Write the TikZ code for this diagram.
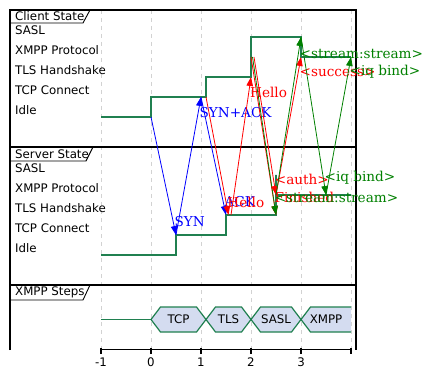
\documentclass[tikz,border=0pt]{standalone}
\usepackage{fontspec}
\setsansfont{DejaVu Sans}
\newfontfamily\msgfont{DejaVu Serif}
\usepackage{tikz}
\usetikzlibrary{arrows.meta,positioning,calc}

\definecolor{sigcol}{RGB}{32,128,80}
\definecolor{stepfill}{RGB}{212,220,240}
\definecolor{msggreen}{RGB}{0,128,0}

\tikzset{
  frame/.style={line width=1.3pt},
  tabline/.style={line width=0.9pt},
  gridline/.style={gray!35, line width=0.7pt, dash pattern=on 4pt off 4pt},
  signal/.style={sigcol, line width=1.2pt},
  msg/.style={-{Triangle[length=9pt,width=6.5pt]}, line width=0.8pt},
  msglab/.style={anchor=west, inner sep=1pt, font=\msgfont\fontsize{13.6}{15}\selectfont},
  rowlab/.style={anchor=west, inner sep=0pt, font=\sffamily\fontsize{11.8}{13}\selectfont},
  stepbox/.style={draw=sigcol, fill=stepfill, line width=1.2pt},
  steplab/.style={inner sep=0pt, font=\sffamily\fontsize{11.8}{13}\selectfont}
}

\begin{document}
\begin{tikzpicture}[x=50pt, y=-1pt]
    \useasboundingbox (-3.02,0) rectangle (5.58,379);

    % Time grid
    \foreach \t in {-1,...,4}
        \draw[gridline] (\t,10) -- (\t,349);

    % Frame and panels
    \draw[frame] (-2.82,350) -- (-2.82,10) -- (4.1,10) -- (4.1,350);
    \draw[frame] (-2.82,147) -- (4.1,147);
    \draw[frame] (-2.82,285) -- (4.1,285);

    % Panel tabs
    \node[rowlab] (clienttab) at (-2.72,16.5) {Client State};
    \draw[tabline] (-2.82,23) -- (-1.36,23) -- (-1.22,10);
    \node[rowlab] (servertab) at (-2.72,154.5) {Server State};
    \draw[tabline] (-2.82,161) -- (-1.30,161) -- (-1.16,147);
    \node[rowlab] (stepstab) at (-2.72,292.5) {XMPP Steps};
    \draw[tabline] (-2.82,300) -- (-1.36,300) -- (-1.22,285);

    % State rows
    \foreach \y/\lab [count=\i] in {30/SASL, 50/XMPP Protocol, 70/TLS Handshake, 90/TCP Connect, 110/Idle} {
        \node[rowlab] (crow\i) at (-2.72,\y) {\lab};
        \node[rowlab] (srow\i) at (-2.72,\y+138) {\lab};
    }

    % Client state
    \draw[signal] (-1,117) -- (0,117) -- (0,97) -- (1.1,97) -- (1.1,77) -- (2,77)
        -- (2,37) -- (3,37) -- (3,57) -- (4,57);

    % Server state
    \draw[signal] (-1,255) -- (0.5,255) -- (0.5,235) -- (1.5,235) -- (1.5,215)
        -- (2.5,215) -- (2.5,175) -- (2.5,195) -- (4,195);

    % XMPP steps
    \draw[signal] (-1,319.5) -- (0,319.5);
    \foreach \a/\b/\lab in {0/1.1/TCP, 1.1/2/TLS, 2/3/SASL} {
        \draw[stepbox] (\a,319.5) -- (\a+0.19,307) -- (\b-0.19,307) -- (\b,319.5)
            -- (\b-0.19,332) -- (\a+0.19,332) -- cycle;
        \node[steplab] (step\lab) at ({(\a+\b)/2},319.5) {\lab};
    }
    \fill[stepfill] (4,307) -- (3.19,307) -- (3,319.5) -- (3.19,332) -- (4,332) -- cycle;
    \draw[sigcol, line width=1.2pt] (4,307) -- (3.19,307) -- (3,319.5) -- (3.19,332) -- (4,332);
    \node[steplab] (stepXMPP) at (3.5,319.5) {XMPP};

    % Time axis
    \draw[frame] (-1,349.5) -- (4,349.5);
    \foreach \t in {-1,...,4}
        \draw[frame] (\t,348) -- (\t,354);
    \foreach \t in {-1,...,3}
        \node[steplab] (tick\t) at (\t,362) {\t};

    % Message end points
    \coordinate (c0) at (0,117);
    \coordinate (c1) at (1,97);
    \coordinate (c2) at (1.1,97);
    \coordinate (c3) at (2,77);
    \coordinate (c4) at (2,57);
    \coordinate (c5) at (2.03,57);
    \coordinate (c6) at (2.06,57);
    \coordinate (c7) at (3,57);
    \coordinate (c8) at (3,37);
    \coordinate (c9) at (4,57);
    \coordinate (s0) at (0.5,235);
    \coordinate (s1) at (1.5,215);
    \coordinate (s2) at (1.55,215);
    \coordinate (s3) at (1.6,215);
    \coordinate (s4) at (2.5,215);
    \coordinate (s5) at (2.5,195);
    \coordinate (s6) at (3.5,195);

    % Messages
    \foreach \a/\b/\col/\txt in {c0/s0/blue/SYN, s0/c1/blue/SYN+ACK, c1/s1/blue/ACK,
        c2/s2/red/Hello, s3/c3/red/Hello, c4/s4/red/Finished,
        c5/s4/msggreen/<stream:stream>, c6/s5/red/<auth>, s5/c7/red/<success>,
        s5/c8/msggreen/<stream:stream>, c8/s6/msggreen/<iq bind>, s6/c9/msggreen/<iq bind>}
        \draw[msg, \col] (\a) -- (\b) node[msglab, pos=.89] {\txt};
\end{tikzpicture}
\end{document}
